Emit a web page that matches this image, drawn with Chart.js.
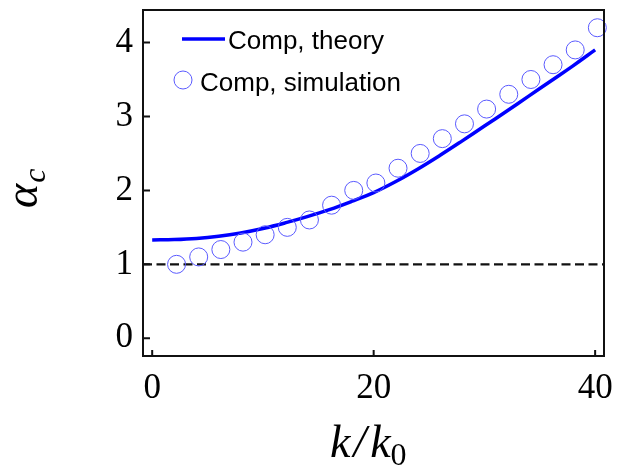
<!DOCTYPE html>
<html lang="en">
<head>
    <meta charset="UTF-8">
    <title>alpha_c vs k/k0</title>
    <script src="https://cdn.jsdelivr.net/npm/chart.js"></script>
    <style>
        html, body { margin: 0; padding: 0; background: #ffffff; }
        .chart-box { position: relative; width: 627px; height: 465px; }
    </style>
</head>
<body>
    <div class="chart-box">
        <canvas id="alphaChart"></canvas>
    </div>

    <script>
        // Simulation points (open circles)
        const simK = [2.2, 4.2, 6.2, 8.2, 10.2, 12.2, 14.2, 16.2, 18.2, 20.2,
                      22.2, 24.2, 26.2, 28.2, 30.2, 32.2, 34.2, 36.2, 38.2, 40.2];
        const simAlpha = [1.0, 1.1, 1.2, 1.3, 1.4, 1.5, 1.6, 1.8, 2.0, 2.1,
                          2.3, 2.5, 2.7, 2.9, 3.1, 3.3, 3.5, 3.7, 3.9, 4.2];

        // Theory curve
        const theoryK = [0, 2, 4, 6, 8, 10, 12, 14, 16, 18, 20,
                         22, 24, 26, 28, 30, 32, 34, 36, 38, 40];
        const theoryAlpha = [1.33, 1.335, 1.35, 1.38, 1.425, 1.485, 1.56, 1.645, 1.74, 1.85, 1.97,
                             2.12, 2.29, 2.475, 2.67, 2.87, 3.07, 3.275, 3.48, 3.685, 3.90];

        // dashed reference level
        const refLevel = 1;

        const xTicks = [0, 20, 40];
        const yTicks = [0, 1, 2, 3, 4];
        const xRange = [-0.83, 40.8];
        const yRange = [-0.24, 4.44];

        const serif = "'Liberation Serif', 'Times New Roman', serif";
        const sans = "'Liberation Sans', Arial, sans-serif";
        const theoryColor = '#0000ff';
        const simColor = 'rgb(90, 90, 255)';

        // box around the plot + inward tick marks
        const framePlugin = {
            id: 'frame',
            afterDraw(chart) {
                const { ctx, chartArea: a, scales } = chart;
                ctx.save();
                ctx.strokeStyle = '#111';
                ctx.lineWidth = 2;
                ctx.strokeRect(a.left, a.top, a.right - a.left, a.bottom - a.top);
                ctx.beginPath();
                yTicks.forEach(v => {
                    const y = scales.y.getPixelForValue(v);
                    ctx.moveTo(a.left, y);
                    ctx.lineTo(a.left + 7, y);
                });
                xTicks.forEach(v => {
                    const x = scales.x.getPixelForValue(v);
                    ctx.moveTo(x, a.bottom);
                    ctx.lineTo(x, a.bottom - 6);
                });
                ctx.stroke();
                ctx.restore();
            }
        };

        // legend inside the top-left corner
        const legendPlugin = {
            id: 'innerLegend',
            afterDraw(chart) {
                const { ctx } = chart;
                ctx.save();
                ctx.strokeStyle = theoryColor;
                ctx.lineWidth = 3.5;
                ctx.beginPath();
                ctx.moveTo(182, 39);
                ctx.lineTo(225, 39);
                ctx.stroke();
                ctx.strokeStyle = simColor;
                ctx.lineWidth = 1;
                ctx.beginPath();
                ctx.arc(183, 80, 9, 0, Math.PI * 2);
                ctx.stroke();
                ctx.fillStyle = '#000';
                ctx.font = '26px ' + sans;
                ctx.textBaseline = 'alphabetic';
                ctx.fillText('Comp, theory', 228, 49);
                ctx.fillText('Comp, simulation', 200, 91);
                ctx.restore();
            }
        };

        // axis titles with subscripts
        const titlePlugin = {
            id: 'axisTitles',
            afterDraw(chart) {
                const { ctx } = chart;
                ctx.save();
                ctx.fillStyle = '#000';
                ctx.textBaseline = 'alphabetic';

                // y title: alpha_c, rotated
                ctx.translate(37, 208);
                ctx.rotate(-Math.PI / 2);
                ctx.font = 'italic 46px ' + serif;
                ctx.fillText('α', 0, 0);
                const aw = ctx.measureText('α').width;
                ctx.font = 'italic 32px ' + serif;
                ctx.fillText('c', aw + 1, 8);
                ctx.restore();

                ctx.save();
                ctx.fillStyle = '#000';
                ctx.textBaseline = 'alphabetic';
                // x title: k / k_0
                ctx.font = 'italic 46px ' + serif;
                let x = 330;
                ctx.fillText('k', x, 457);
                x += ctx.measureText('k').width + 3;
                ctx.fillText('/', x, 457);
                x += ctx.measureText('/').width + 4;
                ctx.fillText('k', x, 457);
                x += ctx.measureText('k').width;
                ctx.font = '32px ' + serif;
                ctx.fillText('0', x, 465);
                ctx.restore();
            }
        };

        const ctx = document.getElementById('alphaChart').getContext('2d');
        new Chart(ctx, {
            type: 'scatter',
            data: {
                datasets: [
                    {
                        label: 'Comp, simulation',
                        data: simK.map((k, i) => ({ x: k, y: simAlpha[i] })),
                        showLine: false,
                        pointRadius: 9,
                        pointHoverRadius: 9,
                        pointBorderWidth: 1,
                        pointBorderColor: simColor,
                        pointBackgroundColor: 'rgba(0,0,0,0)',
                        clip: false,
                        order: 0
                    },
                    {
                        label: 'Comp, theory',
                        data: theoryK.map((k, i) => ({ x: k, y: theoryAlpha[i] })),
                        showLine: true,
                        borderColor: theoryColor,
                        borderWidth: 3.5,
                        pointRadius: 0,
                        tension: 0.4,
                        order: 1
                    },
                    {
                        label: 'reference',
                        data: [{ x: xRange[0], y: refLevel }, { x: xRange[1], y: refLevel }],
                        showLine: true,
                        borderColor: '#111',
                        borderWidth: 2.2,
                        borderDash: [9, 4.5],
                        pointRadius: 0,
                        order: 2
                    }
                ]
            },
            options: {
                responsive: true,
                maintainAspectRatio: false,
                animation: false,
                layout: { padding: { top: 10, right: 23, left: 0, bottom: 0 } },
                plugins: {
                    legend: { display: false },
                    tooltip: { enabled: false }
                },
                scales: {
                    x: {
                        type: 'linear',
                        min: xRange[0],
                        max: xRange[1],
                        afterBuildTicks: s => { s.ticks = xTicks.map(v => ({ value: v })); },
                        afterFit: s => { s.height = 109; s.paddingLeft = 0; s.paddingRight = 0; },
                        grid: { display: false, drawTicks: false },
                        border: { display: false },
                        ticks: {
                            color: '#000',
                            font: { family: serif, size: 35 },
                            padding: 12,
                            maxRotation: 0
                        }
                    },
                    y: {
                        type: 'linear',
                        min: yRange[0],
                        max: yRange[1],
                        afterBuildTicks: s => { s.ticks = yTicks.map(v => ({ value: v })); },
                        afterFit: s => { s.width = 143; s.paddingTop = 0; s.paddingBottom = 0; },
                        grid: { display: false, drawTicks: false },
                        border: { display: false },
                        ticks: {
                            color: '#000',
                            font: { family: serif, size: 35 },
                            padding: 10
                        }
                    }
                }
            },
            plugins: [framePlugin, legendPlugin, titlePlugin]
        });
    </script>
</body>
</html>
